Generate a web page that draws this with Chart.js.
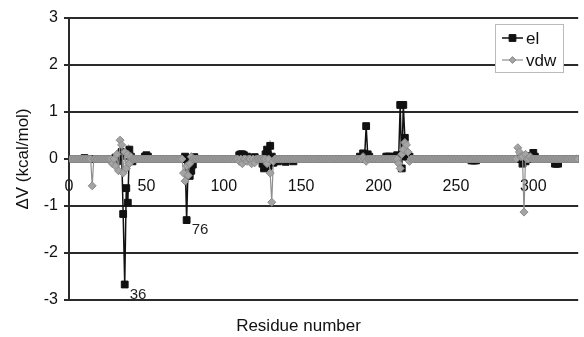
<!DOCTYPE html>
<html>
<head>
<meta charset="utf-8">
<script src="https://cdn.jsdelivr.net/npm/chart.js@4.4.1/dist/chart.umd.min.js"></script>
<style>
  html, body { margin: 0; padding: 0; background: #fff; }
  #wrap { width: 584px; height: 337px; }
</style>
</head>
<body>
<div id="wrap"><canvas id="c" width="584" height="337"></canvas></div>
<script>
// ΔV per residue (residue 1..329)
const el = [
  0,0,0,0,0,0,0,0,0,0.02,
  0,0,0,0,0,0,0,0,0,0,
  0,0,0,0,0,0,0,0,0,0.03,
  -0.05,0.05,0.1,0.15,-1.17,-2.67,-0.62,-0.93,0.2,0.05,
  -0.05,0,0,0,0,0,0,0,0.05,0.08,
  0.05,0,0,0,0,0,0,0,0,0,
  0,0,0,0,0,0,0,0,0,0,
  0,0,0,0,0.05,-1.3,-0.1,-0.36,-0.25,-0.12,
  0.04,0,0,0,0,0,0,0,0,0,
  0,0,0,0,0,0,0,0,0,0,
  0,0,0,0,0,0,0,0,0,0.08,
  0.1,0.1,0.08,0,0.05,0,0,0,0,0.04,
  0,0,0,0,-0.1,-0.2,0.1,0.2,-0.15,0.28,
  0.05,-0.08,-0.05,0,-0.05,0,0,0,0,-0.06,
  0,0,0,0,-0.05,0,0,0,0,0,
  0,0,0,0,0,0,0,0,0,0,
  0,0,0,0,0,0,0,0,0,0,
  0,0,0,0,0,0,0,0,0,0,
  0,0,0,0,0,0,0,0.05,0,0.12,
  0.05,0.7,0.1,0.05,0,0,0,0,0,0,
  0,0,0,0,0.05,0.05,0.05,0,0,0.05,
  0,0.08,0.05,1.15,-0.2,1.15,0.45,0.05,0.05,0.05,
  0,0,0,0,0,0,0,0,0,0,
  0,0,0,0,0,0,0,0,0,0,
  0,0,0,0,0,0,0,0,0,0,
  0,0,0,0,0,0,0,0,0,-0.03,
  -0.03,-0.03,-0.03,0,0,0,0,0,0,0,
  0,0,0,0,0,0,0,0,0,0,
  0,0,0,0,0,0,0,0,0,0,
  0,0,-0.1,0,-0.05,0,0.06,0,0,0.13,
  0.05,0,0,0,0,0,0,0,0,0,
  0,0,0,-0.1,-0.1,-0.1,0,0,0,0,
  0,0,0,0,0,0,0,0,0
];
const vdw = [
  0,0,0,0,0,0,0,0,0,0,
  0,0,0,0,-0.57,0,0,0,0,0,
  0,0,0,0,0,0,0,-0.1,0,-0.15,
  0.1,-0.25,0.4,0.3,-0.3,0.15,-0.2,0.1,-0.1,0.05,
  0,0,0,0,0,0,0,0,0,0,
  0,0,0,0,0,0,0,0,0,0,
  0,0,0,0,0,0,0,0,0,0,
  0,0,0,-0.3,-0.47,-0.15,-0.35,-0.1,0.05,0,
  0,0,0,0,0,0,0,0,0,0,
  0,0,0,0,0,0,0,0,0,0,
  0,0,0,0,0,0,0,0,0,-0.05,
  0,-0.1,0,0,-0.05,0,0,-0.1,0,-0.08,
  0,0,0,0,0,0,0,-0.1,0,-0.3,
  -0.92,-0.05,0,0,0,0,0,0,0,0,
  0,0,0,0,0,0,0,0,0,0,
  0,0,0,0,0,0,0,0,0,0,
  0,0,0,0,0,0,0,0,0,0,
  0,0,0,0,0,0,0,0,0,0,
  0,0,0,0,0,0,0,0,0,0.05,
  0,-0.05,0,0,0,0,0,0,0,0,
  0,0,0,0,0,0,0,0,0,0,
  0,0,-0.1,-0.2,0.1,0.2,0.35,0.3,0.15,-0.05,
  0,0,0,0,0,0,0,0,0,0,
  0,0,0,0,0,0,0,0,0,0,
  0,0,0,0,0,0,0,0,0,0,
  0,0,0,0,0,0,0,0,0,0,
  0,0,0,0,0,0,0,0,0,0,
  0,0,0,0,0,0,0,0,0,0,
  0,0,0,0,0,0,0,0,0,0.24,
  0.15,0.05,0.05,-1.13,0.1,0,0,0.05,0,0,
  0,0,0,0,0,0,0,0,0,0,
  0,0,0,0,0,0,0,0,0,0,
  0,0,0,0,0,0,0,0,0
];
const seriesNames = ['el', 'vdw'];
const yTicks = [-3, -2, -1, 0, 1, 2, 3];
const xTickStep = 50;
const annotations = [ { residue: 36, text: '36' }, { residue: 76, text: '76' } ];

const FONT = '"Liberation Sans", Arial, sans-serif';
const toXY = arr => arr.map((v, i) => ({ x: i + 1, y: v }));

const legendPlugin = {
  id: 'boxLegend',
  afterDraw(chart) {
    const ctx = chart.ctx;
    const x0 = 495, y0 = 24, w = 68, h = 48;
    ctx.save();
    ctx.fillStyle = '#fff';
    ctx.fillRect(x0, y0, w, h);
    ctx.strokeStyle = '#bbb';
    ctx.lineWidth = 1;
    ctx.strokeRect(x0 + 0.5, y0 + 0.5, w, h);
    const rows = [y0 + 14, y0 + 36];
    chart.data.datasets.forEach((ds, i) => {
      const y = rows[i];
      const cx = x0 + 17.5;
      ctx.strokeStyle = ds.borderColor;
      ctx.lineWidth = ds.borderWidth;
      ctx.beginPath(); ctx.moveTo(x0 + 7, y); ctx.lineTo(x0 + 28, y); ctx.stroke();
      ctx.fillStyle = ds.pointBackgroundColor;
      ctx.strokeStyle = ds.pointBorderColor;
      ctx.lineWidth = ds.pointBorderWidth;
      ctx.beginPath();
      if (ds.pointStyle === 'rect') {
        const s = ds.pointRadius * Math.SQRT1_2;
        ctx.rect(cx - s, y - s, 2 * s, 2 * s);
      } else {
        const r = ds.pointRadius * 0.85;
        ctx.moveTo(cx, y - r); ctx.lineTo(cx + r, y);
        ctx.lineTo(cx, y + r); ctx.lineTo(cx - r, y); ctx.closePath();
      }
      ctx.fill(); ctx.stroke();
      ctx.fillStyle = '#111';
      ctx.font = '17px ' + FONT;
      ctx.textBaseline = 'middle';
      ctx.textAlign = 'left';
      ctx.fillText(ds.label, x0 + 31, y + 1);
    });
    ctx.restore();
  }
};

const annotationPlugin = {
  id: 'residueLabels',
  afterDatasetsDraw(chart) {
    const ctx = chart.ctx;
    const xs = chart.scales.x, ys = chart.scales.y;
    ctx.save();
    ctx.fillStyle = '#222';
    ctx.font = '15px ' + FONT;
    ctx.textBaseline = 'middle';
    ctx.textAlign = 'left';
    annotations.forEach(a => {
      const px = xs.getPixelForValue(a.residue);
      const py = ys.getPixelForValue(el[a.residue - 1]);
      ctx.fillText(a.text, px + 5, py + 10);
    });
    ctx.restore();
  }
};

new Chart(document.getElementById('c'), {
  type: 'line',
  data: {
    datasets: [
      {
        label: seriesNames[0],
        data: toXY(el),
        borderColor: '#111',
        borderWidth: 1.5,
        pointStyle: 'rect',
        pointRadius: 4.8,
        pointBackgroundColor: '#111',
        pointBorderColor: '#111',
        pointBorderWidth: 1,
        order: 2
      },
      {
        label: seriesNames[1],
        data: toXY(vdw),
        borderColor: '#8e8e8e',
        borderWidth: 1.2,
        pointStyle: 'rectRot',
        pointRadius: 4,
        pointBackgroundColor: '#a4a4a4',
        pointBorderColor: '#8a8a8a',
        pointBorderWidth: 1,
        order: 1
      }
    ]
  },
  options: {
    responsive: false,
    animation: false,
    devicePixelRatio: 1,
    layout: { padding: { left: 13, right: 0, top: 18, bottom: 0 } },
    plugins: {
      legend: { display: false },
      tooltip: { enabled: false },
      title: {
        display: true,
        position: 'bottom',
        text: 'Residue number',
        color: '#111',
        font: { family: FONT, size: 17, weight: 'normal' },
        padding: { top: 16.6, bottom: 0 }
      }
    },
    scales: {
      x: {
        type: 'linear',
        position: { y: 0 },
        min: 0,
        max: 329,
        grid: { display: false, drawTicks: false },
        border: { display: false },
        ticks: {
          stepSize: xTickStep,
          includeBounds: false,
          color: '#111',
          font: { family: FONT, size: 16 },
          padding: 18,
          maxRotation: 0
        }
      },
      y: {
        type: 'linear',
        min: yTicks[0],
        max: yTicks[yTicks.length - 1],
        afterBuildTicks(s) { s.ticks = yTicks.map(v => ({ value: v })); },
        afterFit(s) { s.width = 56; },
        grid: { color: '#2a2a2a', lineWidth: 2, tickLength: 5, drawTicks: true },
        border: { display: true, color: '#2a2a2a', width: 2 },
        ticks: {
          color: '#111',
          font: { family: FONT, size: 16 },
          padding: 6
        },
        title: {
          display: true,
          text: 'ΔV (kcal/mol)',
          color: '#111',
          font: { family: FONT, size: 17 },
          padding: { top: 0, bottom: 0 }
        }
      }
    }
  },
  plugins: [annotationPlugin, legendPlugin]
});
</script>
</body>
</html>
